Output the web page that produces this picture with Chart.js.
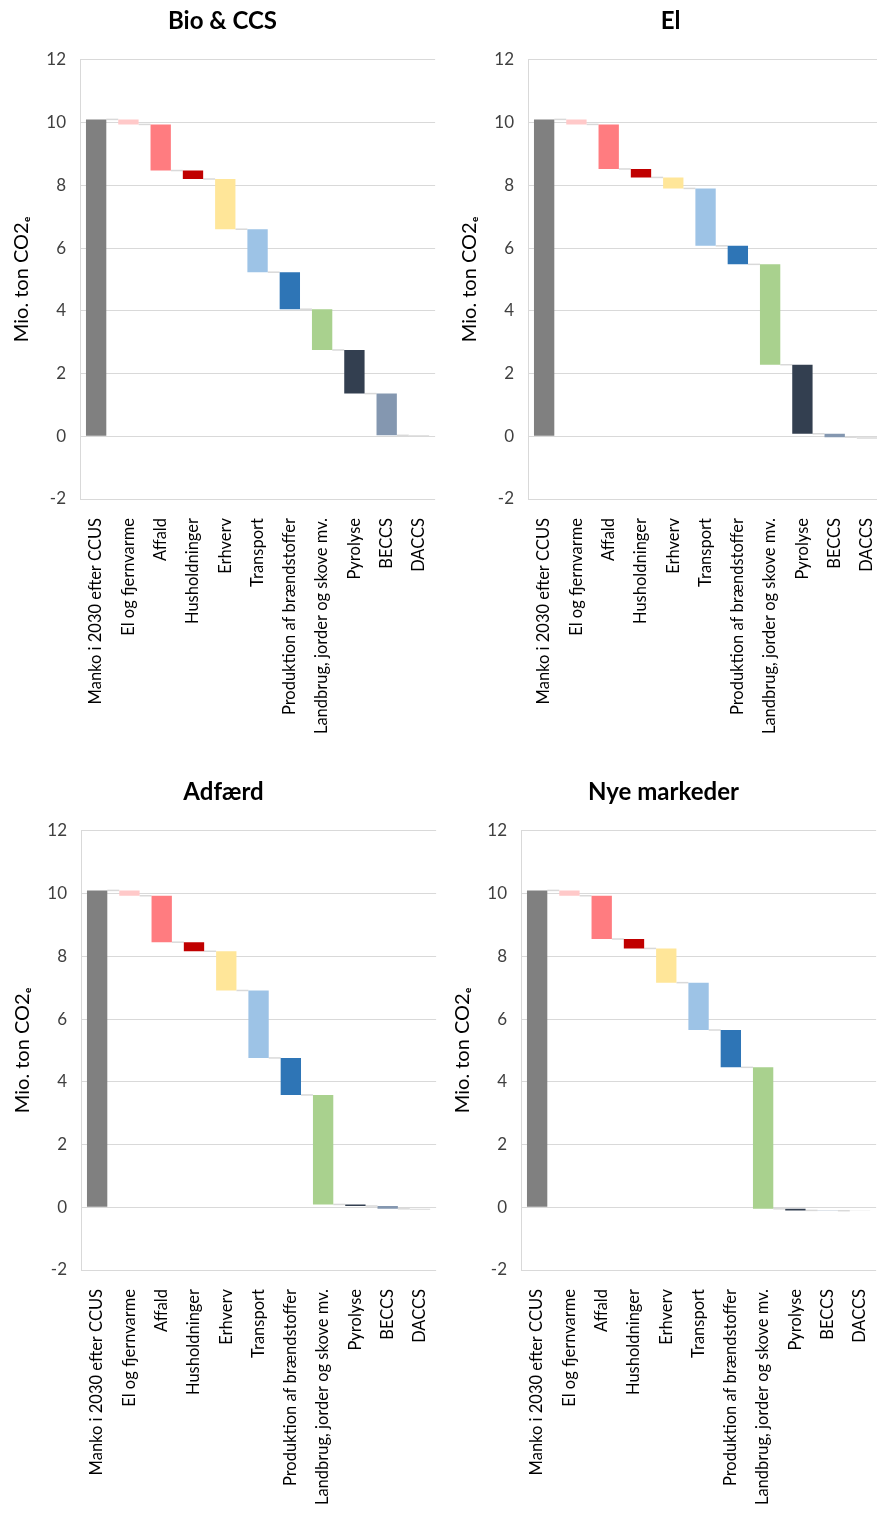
<!DOCTYPE html>
<html>
<head>
<meta charset="utf-8">
<script src="https://cdn.jsdelivr.net/npm/chart.js@4.4.1/dist/chart.umd.min.js"></script>
<style>
    body { margin: 0; background: #fff; width: 877px; height: 1519px; overflow: hidden; position: relative; }
    .panel { position: absolute; width: 450px; height: 740px; }
</style>
</head>
<body>
<div class="panel" style="left:0px; top:0px;"><canvas id="bio"></canvas></div>
<div class="panel" style="left:448px; top:0px;"><canvas id="el"></canvas></div>
<div class="panel" style="left:1px; top:771px;"><canvas id="adfaerd"></canvas></div>
<div class="panel" style="left:441px; top:771px;"><canvas id="nye"></canvas></div>
<script>
// kategorier (samme i alle fire figurer)
const categories = ['Manko i 2030 efter CCUS', 'El og fjernvarme', 'Affald', 'Husholdninger', 'Erhverv', 'Transport',
    'Produktion af brændstoffer', 'Landbrug, jorder og skove mv.', 'Pyrolyse', 'BECCS', 'DACCS'];

// niveau efter hvert trin i vandfaldet (mio. ton CO2e)
const levelsBio = [10.1, 9.94, 8.47, 8.2, 6.6, 5.23, 4.05, 2.75, 1.36, 0.03, -0.02];
const levelsEl = [10.1, 9.94, 8.52, 8.25, 7.9, 6.07, 5.48, 2.28, 0.08, -0.03, -0.08];
const levelsAdfaerd = [10.1, 9.93, 8.45, 8.16, 6.91, 4.76, 3.58, 0.09, 0.04, -0.05, -0.08];
const levelsNye = [10.1, 9.93, 8.55, 8.25, 7.16, 5.65, 4.46, -0.05, -0.1, -0.11, -0.12];

// y-akse
const yMin = -2;
const yMax = 12;
const yStep = 2;

const barColors = ['#808080', '#FFC9C9', '#FF7C80', '#C00000', '#FFE699', '#9DC3E6',
    '#2E75B6', '#A9D18E', '#333F50', '#8497B0', '#D9D9D9'];

const FONT = 'Lato, "Open Sans", sans-serif';

// forbindelseslinjer mellem søjlerne
const connectors = {
    id: 'connectors',
    beforeDatasetsDraw(chart, args, opts) {
        const meta = chart.getDatasetMeta(0);
        const y = chart.scales.y;
        const ctx = chart.ctx;
        ctx.save();
        ctx.strokeStyle = '#D9D9D9';
        ctx.lineWidth = 1.5;
        for (let i = 0; i < meta.data.length - 1; i++) {
            const a = meta.data[i];
            const b = meta.data[i + 1];
            const py = y.getPixelForValue(opts.levels[i]);
            ctx.beginPath();
            ctx.moveTo(a.x + a.width / 2, py);
            ctx.lineTo(b.x - b.width / 2, py);
            ctx.stroke();
        }
        ctx.restore();
    }
};

function lavVandfald(id, titel, levels) {
    // hver søjle går fra forrige niveau til nyt niveau
    let bars = [];
    for (let i = 0; i < levels.length; i++) {
        bars.push([i == 0 ? 0 : levels[i - 1], levels[i]]);
    }

    new Chart(document.getElementById(id), {
        type: 'bar',
        data: {
            labels: categories,
            datasets: [{
                data: bars,
                backgroundColor: barColors,
                borderWidth: 0,
                categoryPercentage: 1,
                barPercentage: 0.63
            }]
        },
        plugins: [connectors],
        options: {
            responsive: true,
            maintainAspectRatio: false,
            animation: false,
            layout: { padding: { right: 5 } },
            plugins: {
                legend: { display: false },
                tooltip: { enabled: false },
                connectors: { levels: levels },
                title: {
                    display: true,
                    text: titel,
                    color: '#000',
                    font: { family: FONT, size: 24, weight: 'bold' },
                    padding: { top: 7, bottom: 24 }
                }
            },
            scales: {
                x: {
                    grid: { display: false },
                    border: { display: false },
                    ticks: {
                        color: '#000',
                        font: { family: FONT, size: 16.5 },
                        minRotation: 90,
                        maxRotation: 90,
                        autoSkip: false,
                        padding: 11
                    },
                    afterFit: (scale) => { scale.height = 241; }
                },
                y: {
                    min: yMin,
                    max: yMax,
                    grid: { color: '#D9D9D9', drawTicks: false },
                    border: { display: true, color: '#D9D9D9' },
                    ticks: {
                        stepSize: yStep,
                        color: '#404040',
                        font: { family: FONT, size: 17 },
                        padding: 14
                    },
                    title: {
                        display: true,
                        text: 'Mio. ton CO2ₑ',
                        color: '#000',
                        font: { family: FONT, size: 20 },
                        padding: { top: 10, bottom: 0 }
                    },
                    afterFit: (scale) => { scale.width = 80; }
                }
            }
        }
    });
}

lavVandfald('bio', 'Bio & CCS', levelsBio);
lavVandfald('el', 'El', levelsEl);
lavVandfald('adfaerd', 'Adfærd', levelsAdfaerd);
lavVandfald('nye', 'Nye markeder', levelsNye);
</script>
</body>
</html>
